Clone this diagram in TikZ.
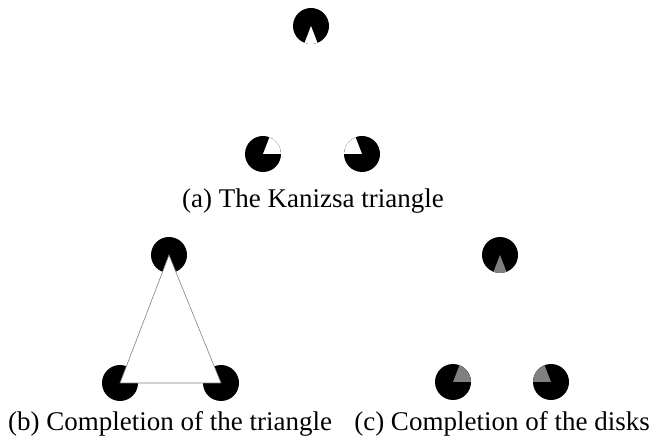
\documentclass[tikz,border=0pt]{standalone}
\usepackage{fontspec}
\setmainfont{Liberation Serif}

\begin{document}
\begin{tikzpicture}[x=1pt,y=1pt]

% Canvas
\useasboundingbox (0,0) rectangle (663,436);

% Coordinates
\coordinate (aT) at (311,410);
\coordinate (aL) at (263,282);
\coordinate (aR) at (362,282);
\coordinate (bT) at (169,181);
\coordinate (bL) at (120,53);
\coordinate (bR) at (221,53);
\coordinate (cT) at (500,181);
\coordinate (cL) at (453,54);
\coordinate (cR) at (551,54);

% (a) Disks with missing wedges
\fill (aT) circle (18pt);
\fill (aL) circle (18pt);
\fill (aR) circle (18pt);
\fill[white] (aT) -- ++(-111:18pt) arc[start angle=-111, end angle=-69, radius=18pt] -- cycle;
\fill[white] (aL) -- ++(0:18pt) arc[start angle=0, end angle=69, radius=18pt] -- cycle;
\fill[white] (aR) -- ++(111:18pt) arc[start angle=111, end angle=180, radius=18pt] -- cycle;

% (b) Disks behind a white triangle
\fill (bT) circle (18pt);
\fill (bL) circle (18pt);
\fill (bR) circle (18pt);
\filldraw[fill=white, draw=gray, line width=0.6pt] (bT) -- (bL) -- (bR) -- cycle;

% (c) Full disks, completed wedges in gray
\fill (cT) circle (18pt);
\fill (cL) circle (18pt);
\fill (cR) circle (18pt);
\fill[gray] (cT) -- ++(-111:18pt) arc[start angle=-111, end angle=-69, radius=18pt] -- cycle;
\fill[gray] (cL) -- ++(0:18pt) arc[start angle=0, end angle=69, radius=18pt] -- cycle;
\fill[gray] (cR) -- ++(111:18pt) arc[start angle=111, end angle=180, radius=18pt] -- cycle;

% Labels
\node[anchor=base, inner sep=0pt, font=\fontsize{27}{32}\selectfont] (capa) at (313,228) {(a) The Kanizsa triangle};
\node[anchor=base, inner sep=0pt, font=\fontsize{27}{32}\selectfont] (capb) at (170,6) {(b) Completion of the triangle};
\node[anchor=base, inner sep=0pt, font=\fontsize{27}{32}\selectfont] (capc) at (502,6) {(c) Completion of the disks};

\end{tikzpicture}
\end{document}
